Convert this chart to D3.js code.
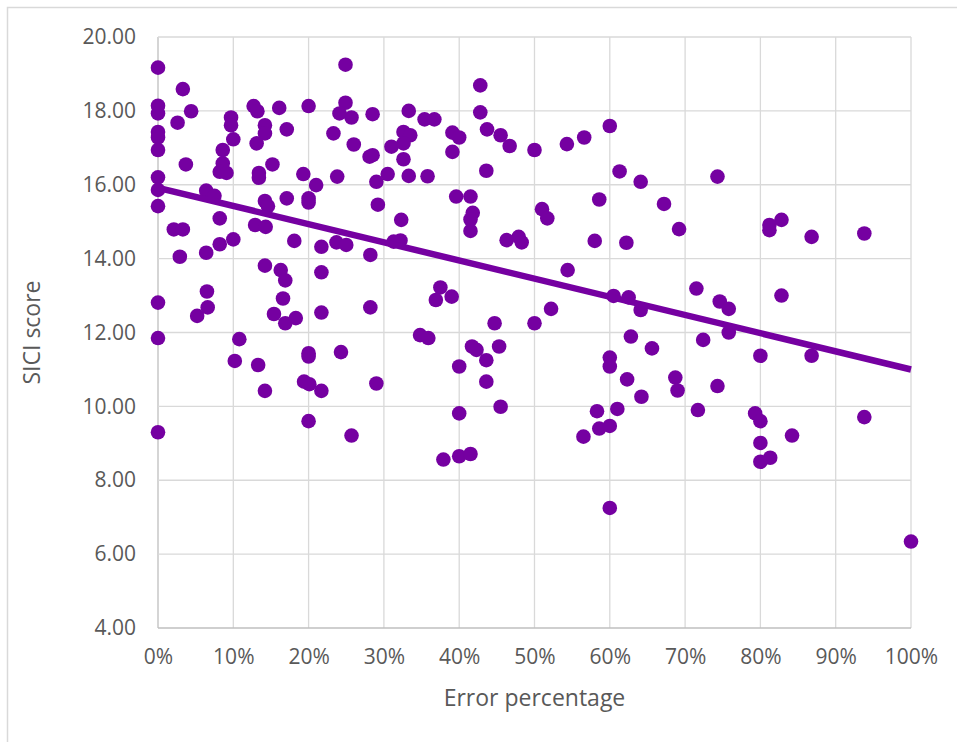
<!DOCTYPE html>
<html>
<head>
<meta charset="utf-8">
<script src="https://cdn.jsdelivr.net/npm/d3@7"></script>
<style>
    body { margin: 0; background: #fff; }
    svg { display: block; font-family: 'Open Sans', sans-serif; }
</style>
</head>
<body>
<svg id="chart" width="957" height="742"></svg>
<script>
// error percentage (fraction) and SICI score
const errorPct = [
    0, 0, 0, 0, 0, 0, 0, 0, 0, 0, 0, 0,
    0.033, 0.044, 0.026, 0.037, 0.064, 0.075, 0.082, 0.021, 0.033, 0.029, 0.064, 0.082,
    0.100, 0.052, 0.065, 0.066, 0.108, 0.097, 0.097, 0.100, 0.086, 0.086, 0.082, 0.091,
    0.127, 0.132, 0.142, 0.142, 0.131, 0.161, 0.171, 0.134, 0.134, 0.152, 0.142, 0.146,
    0.171, 0.129, 0.143, 0.181, 0.193, 0.210, 0.200, 0.200, 0.200, 0.217, 0.217, 0.142,
    0.163, 0.169, 0.166, 0.154, 0.169, 0.183, 0.217, 0.249, 0.249, 0.241, 0.257, 0.285,
    0.233, 0.260, 0.281, 0.285, 0.310, 0.305, 0.290, 0.238, 0.292, 0.237, 0.250, 0.282,
    0.282, 0.313, 0.322,
    0.428, 0.428, 0.333, 0.354, 0.367, 0.326, 0.335, 0.326, 0.391, 0.400, 0.391, 0.437,
    0.455, 0.467, 0.500, 0.543, 0.566, 0.600, 0.326, 0.333, 0.358, 0.436, 0.613, 0.641,
    0.396, 0.415, 0.418, 0.415, 0.415, 0.586, 0.672, 0.510, 0.517, 0.323, 0.463, 0.479,
    0.483, 0.580, 0.622, 0.544, 0.375, 0.369, 0.390, 0.605, 0.625, 0.641, 0.447, 0.500,
    0.522, 0.348, 0.359, 0.628,
    0.743, 0.692, 0.812, 0.812, 0.828, 0.868, 0.938, 0.715, 0.746, 0.758, 0.828, 0.724,
    0.758,
    0.656, 0.800, 0.868, 0.687, 0.690, 0.743, 0.717, 0.793, 0.800, 0.842, 0.800, 0.800,
    0.813, 0.938, 1.000,
    0.417, 0.423, 0.453, 0.436, 0.400, 0.436, 0.455, 0.400, 0.379, 0.400, 0.415, 0.600,
    0.600, 0.623, 0.642, 0.583, 0.610, 0.586, 0.600, 0.565, 0.600,
    0.102, 0.133, 0.142, 0.200, 0.200, 0.243, 0.194, 0.201, 0.217, 0.290, 0.200, 0.257
];
const siciScore = [
    19.17, 18.14, 17.93, 17.43, 17.28, 16.94, 16.20, 15.86, 15.42, 12.81, 11.85, 9.30,
    18.59, 17.99, 17.68, 16.55, 15.84, 15.70, 15.09, 14.79, 14.79, 14.05, 14.16, 14.39,
    14.52, 12.45, 13.11, 12.68, 11.82, 17.82, 17.61, 17.23, 16.94, 16.58, 16.35, 16.32,
    18.13, 17.99, 17.61, 17.39, 17.12, 18.08, 17.50, 16.32, 16.19, 16.55, 15.56, 15.42,
    15.63, 14.91, 14.86, 14.48, 16.29, 15.99, 15.63, 15.52, 18.13, 14.32, 13.63, 13.81,
    13.69, 13.41, 12.92, 12.50, 12.25, 12.39, 12.54, 19.25, 18.22, 17.93, 17.82, 17.91,
    17.39, 17.09, 16.76, 16.80, 17.03, 16.29, 16.08, 16.22, 15.46, 14.44, 14.37, 14.10,
    12.68, 14.46, 14.49,
    18.69, 17.96, 18.00, 17.77, 17.77, 17.43, 17.34, 17.12, 17.41, 17.28, 16.89, 17.50,
    17.34, 17.05, 16.94, 17.10, 17.28, 17.59, 16.69, 16.24, 16.23, 16.38, 16.36, 16.08,
    15.68, 15.68, 15.24, 15.06, 14.75, 15.60, 15.48, 15.34, 15.09, 15.05, 14.50, 14.59,
    14.44, 14.48, 14.43, 13.69, 13.22, 12.88, 12.97, 12.99, 12.95, 12.61, 12.25, 12.25,
    12.64, 11.93, 11.85, 11.89,
    16.22, 14.80, 14.91, 14.77, 15.05, 14.59, 14.68, 13.19, 12.84, 12.64, 13.00, 11.80,
    12.00,
    11.57, 11.37, 11.37, 10.78, 10.43, 10.55, 9.90, 9.81, 9.60, 9.21, 9.01, 8.50,
    8.61, 9.71, 6.34,
    11.62, 11.53, 11.62, 11.25, 11.08, 10.67, 9.99, 9.81, 8.56, 8.65, 8.71, 11.32,
    11.08, 10.73, 10.26, 9.87, 9.93, 9.40, 9.47, 9.18, 7.25,
    11.23, 11.12, 10.42, 11.44, 11.35, 11.47, 10.67, 10.60, 10.42, 10.62, 9.60, 9.21
];
const xTicks = [0, 0.1, 0.2, 0.3, 0.4, 0.5, 0.6, 0.7, 0.8, 0.9, 1.0];
const yTicks = [4, 6, 8, 10, 12, 14, 16, 18, 20];

const points = errorPct.map((e, i) => ({ e: e, s: siciScore[i] }));

const purple = '#7500A1';
const grid = '#D9D9D9';
const textColor = '#595959';

const svg = d3.select('#chart');

// outer chart border (only top/left visible in frame)
svg.append('rect')
    .attr('x', 7.5).attr('y', 7.5)
    .attr('width', 1000).attr('height', 1000)
    .attr('fill', 'none')
    .attr('stroke', grid)
    .attr('stroke-width', 1.5);

const margin = { top: 37, left: 158, right: 46, bottom: 114 };
const width = 957 - margin.left - margin.right;
const height = 742 - margin.top - margin.bottom;

const g = svg.append('g').attr('transform', `translate(${margin.left}, ${margin.top})`);

const x = d3.scaleLinear().domain([0, 1]).range([0, width]);
const y = d3.scaleLinear().domain([4, 20]).range([height, 0]);

// gridlines
g.append('g')
    .selectAll('line.vgrid')
    .data(xTicks)
    .join('line')
    .attr('class', 'vgrid')
    .attr('x1', d => x(d)).attr('x2', d => x(d))
    .attr('y1', 0).attr('y2', height)
    .attr('stroke', d => d === 0 ? '#BFBFBF' : grid)
    .attr('stroke-width', 1.3);

g.append('g')
    .selectAll('line.hgrid')
    .data(yTicks)
    .join('line')
    .attr('class', 'hgrid')
    .attr('x1', 0).attr('x2', width)
    .attr('y1', d => y(d)).attr('y2', d => y(d))
    .attr('stroke', d => d === 4 ? '#BFBFBF' : grid)
    .attr('stroke-width', 1.3);

// axes: labels only, lines come from the grid
const xAxis = g.append('g')
    .attr('transform', `translate(0, ${height})`)
    .call(d3.axisBottom(x).tickValues(xTicks).tickFormat(d3.format('.0%')).tickSize(0).tickPadding(21));
const yAxis = g.append('g')
    .call(d3.axisLeft(y).tickValues(yTicks).tickFormat(d3.format('.2f')).tickSize(0).tickPadding(22));

[xAxis, yAxis].forEach(a => {
    a.select('.domain').remove();
    a.selectAll('text')
        .attr('fill', textColor)
        .style('font-size', '21px')
        .style('font-family', "'Open Sans', sans-serif");
});

// points
g.append('g')
    .selectAll('circle')
    .data(points)
    .join('circle')
    .attr('cx', d => x(d.e))
    .attr('cy', d => y(d.s))
    .attr('r', 7.3)
    .attr('fill', purple);

// linear trendline (least squares)
const mx = d3.mean(points, d => d.e);
const my = d3.mean(points, d => d.s);
const slope = d3.sum(points, d => (d.e - mx) * (d.s - my)) / d3.sum(points, d => (d.e - mx) ** 2);
const intercept = my - slope * mx;

g.append('line')
    .attr('x1', x(0)).attr('y1', y(intercept))
    .attr('x2', x(1)).attr('y2', y(intercept + slope))
    .attr('stroke', purple)
    .attr('stroke-width', 6.5);

// axis titles
svg.append('text')
    .attr('x', margin.left + width / 2)
    .attr('y', 706)
    .attr('text-anchor', 'middle')
    .attr('fill', textColor)
    .style('font-size', '23px')
    .text('Error percentage');

svg.append('text')
    .attr('transform', `translate(40, ${margin.top + height / 2}) rotate(-90)`)
    .attr('text-anchor', 'middle')
    .attr('fill', textColor)
    .style('font-size', '23px')
    .text('SICI score');
</script>
</body>
</html>
